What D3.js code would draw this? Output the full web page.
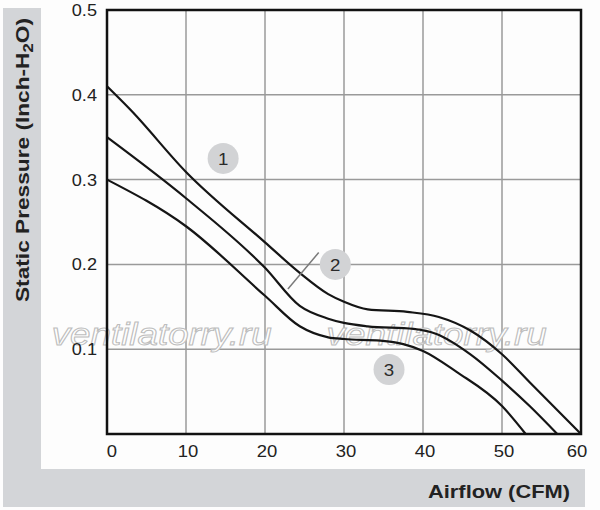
<!DOCTYPE html>
<html>
<head>
<meta charset="utf-8">
<script src="https://cdn.jsdelivr.net/npm/d3@7"></script>
<style>
  html, body { margin: 0; padding: 0; background: #fdfdfd; }
  svg { display: block; font-family: "Liberation Sans", Arial, sans-serif; }
</style>
</head>
<body>
<svg id="chart"></svg>
<script>
// airflow (CFM) / static pressure (inch H2O)
const curve1X = [0, 3, 10, 20, 24.4, 28, 30, 33, 38, 42, 46, 50, 53.5, 60];
const curve1Y = [0.41, 0.382, 0.309, 0.226, 0.19, 0.165, 0.156, 0.147, 0.144, 0.138, 0.122, 0.094, 0.061, 0];
const curve2X = [0, 10, 20, 24.4, 28, 30, 33, 38.8, 41.7, 46, 50, 53.5, 57];
const curve2Y = [0.35, 0.278, 0.196, 0.151, 0.136, 0.131, 0.127, 0.124, 0.118, 0.094, 0.063, 0.033, 0];
const curve3X = [0, 10, 20, 24.4, 28, 30, 34.6, 37.5, 40, 44.3, 50, 53];
const curve3Y = [0.30, 0.245, 0.163, 0.127, 0.114, 0.112, 0.110, 0.106, 0.098, 0.073, 0.033, 0];

const xTicks = [0, 10, 20, 30, 40, 50, 60];
const yTicks = [0.1, 0.2, 0.3, 0.4, 0.5];

// numbered markers and the leader line for "2"
const markerLabels = ["1", "2", "3"];
const markerX = [14.7, 28.9, 35.7];
const markerY = [0.325, 0.2, 0.076];
const leaderX = [26.8, 22.9];
const leaderY = [0.214, 0.171];

const watermark = "ventilatorry.ru";
const watermarkX = [-7, 27.8];

const width = 600;
const height = 510;

const svg = d3.select("#chart")
    .attr("width", width)
    .attr("height", height);

// grey L-shaped band behind the axis titles
svg.append("rect")
    .attr("x", 3).attr("y", 8)
    .attr("width", 38).attr("height", 499)
    .attr("fill", "#d3d5d8");
svg.append("rect")
    .attr("x", 3).attr("y", 469)
    .attr("width", 582).attr("height", 38)
    .attr("fill", "#d3d5d8");

const x = d3.scaleLinear().domain([0, 60]).range([107, 581]);
const y = d3.scaleLinear().domain([0, 0.5]).range([434, 10]);

const g = svg.append("g");

// grid
g.selectAll("line.vgrid")
    .data(xTicks.slice(1, -1))
    .enter().append("line")
    .attr("class", "vgrid")
    .attr("x1", d => x(d)).attr("x2", d => x(d))
    .attr("y1", y(0)).attr("y2", y(0.5))
    .attr("stroke", "#9a9a9a")
    .attr("stroke-width", 1.5);

g.selectAll("line.hgrid")
    .data(yTicks.slice(0, -1))
    .enter().append("line")
    .attr("class", "hgrid")
    .attr("x1", x(0)).attr("x2", x(60))
    .attr("y1", d => y(d)).attr("y2", d => y(d))
    .attr("stroke", "#9a9a9a")
    .attr("stroke-width", 1.5);

// watermark
g.selectAll("text.wm")
    .data(watermarkX)
    .enter().append("text")
    .attr("class", "wm")
    .attr("x", d => x(d))
    .attr("y", y(0.105))
    .attr("font-size", 31)
    .attr("font-style", "italic")
    .attr("textLength", 220)
    .attr("lengthAdjust", "spacingAndGlyphs")
    .attr("fill", "#ffffff")
    .attr("stroke", "#bdbdbd")
    .attr("stroke-width", 1)
    .text(watermark);

// curves
const line = d3.line()
    .x(d => x(d[0]))
    .y(d => y(d[1]))
    .curve(d3.curveMonotoneX);

const curves = [
    d3.zip(curve1X, curve1Y),
    d3.zip(curve2X, curve2Y),
    d3.zip(curve3X, curve3Y)
];

g.selectAll("path.curve")
    .data(curves)
    .enter().append("path")
    .attr("class", "curve")
    .attr("d", line)
    .attr("fill", "none")
    .attr("stroke", "#151515")
    .attr("stroke-width", 2.2);

// frame
g.append("rect")
    .attr("x", x(0)).attr("y", y(0.5))
    .attr("width", x(60) - x(0))
    .attr("height", y(0) - y(0.5))
    .attr("fill", "none")
    .attr("stroke", "#111")
    .attr("stroke-width", 2.5);

// leader line
g.append("line")
    .attr("x1", x(leaderX[0])).attr("y1", y(leaderY[0]))
    .attr("x2", x(leaderX[1])).attr("y2", y(leaderY[1]))
    .attr("stroke", "#7a7a7a")
    .attr("stroke-width", 1.5);

// numbered markers
const markers = g.selectAll("g.marker")
    .data(markerLabels)
    .enter().append("g")
    .attr("class", "marker")
    .attr("transform", (d, i) => `translate(${x(markerX[i])},${y(markerY[i])})`);

markers.append("circle")
    .attr("r", 15.5)
    .attr("fill", "#d2d3d5");

markers.append("text")
    .attr("text-anchor", "middle")
    .attr("dy", "0.36em")
    .attr("font-size", 17)
    .attr("transform", "scale(1.1,1)")
    .attr("fill", "#2a2a2a")
    .text(d => d);

// tick labels (glyphs in the picture run a little wide)
g.selectAll("text.xtick")
    .data(xTicks)
    .enter().append("text")
    .attr("class", "xtick")
    .attr("transform", d => `translate(${x(d) + (d === 0 ? 5 : d === 60 ? -4 : 2)},457) scale(1.12,1)`)
    .attr("text-anchor", "middle")
    .attr("font-size", 16.5)
    .attr("fill", "#222")
    .text(d => d);

g.selectAll("text.ytick")
    .data(yTicks)
    .enter().append("text")
    .attr("class", "ytick")
    .attr("transform", d => `translate(97,${y(d)}) scale(1.1,1)`)
    .attr("dy", "0.36em")
    .attr("text-anchor", "end")
    .attr("font-size", 16.5)
    .attr("fill", "#222")
    .text(d => d3.format(".1f")(d));

// axis titles
const yTitle = svg.append("text")
    .attr("transform", "translate(29,160) rotate(-90)")
    .attr("text-anchor", "middle")
    .attr("font-size", 19)
    .attr("font-weight", "bold")
    .attr("textLength", 284)
    .attr("lengthAdjust", "spacingAndGlyphs")
    .attr("fill", "#222");
yTitle.append("tspan").text("Static Pressure (Inch-H");
yTitle.append("tspan").attr("font-size", 14).attr("dy", 4).text("2");
yTitle.append("tspan").attr("dy", -4).text("O)");

svg.append("text")
    .attr("x", 570)
    .attr("y", 498)
    .attr("text-anchor", "end")
    .attr("font-size", 17.5)
    .attr("font-weight", "bold")
    .attr("textLength", 142)
    .attr("lengthAdjust", "spacingAndGlyphs")
    .attr("fill", "#222")
    .text("Airflow (CFM)");
</script>
</body>
</html>
